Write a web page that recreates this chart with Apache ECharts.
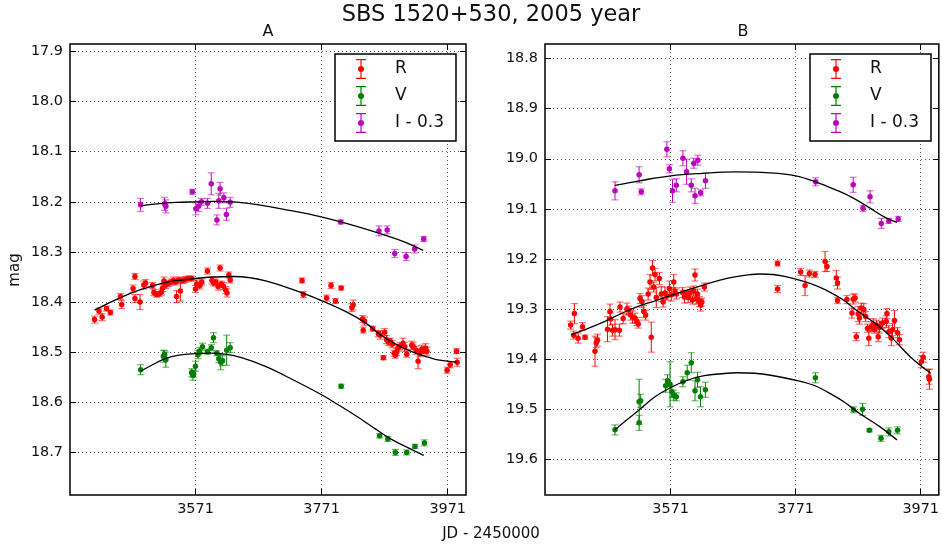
<!DOCTYPE html>
<html><head><meta charset="utf-8">
<script src="https://cdn.jsdelivr.net/npm/echarts@6/dist/echarts.min.js"></script>
<style>html,body{margin:0;padding:0;background:#fff}#c{width:942px;height:547px}</style>
</head><body><div id="c"></div>
<script>
// ---------- tick labels ----------
const xTicks = [3571, 3771, 3971];
const yTicksA = [17.9, 18.0, 18.1, 18.2, 18.3, 18.4, 18.5, 18.6, 18.7];
const yTicksB = [18.8, 18.9, 19.0, 19.1, 19.2, 19.3, 19.4, 19.5, 19.6];
const legendNames = ['R', 'V', 'I - 0.3'];

// ---------- Panel A data: [JD-2450000, mag, err] ----------
const A_R = [
[3411,18.435,0.007],[3418,18.418,0.006],[3423,18.430,0.007],[3430,18.413,0.005],[3436,18.421,0.005],
[3452,18.389,0.006],[3454,18.405,0.008],[3472,18.373,0.007],[3475,18.349,0.006],[3475,18.393,0.008],
[3483,18.400,0.015],[3489,18.366,0.008],[3492,18.362,0.007],[3503,18.367,0.006],[3505,18.381,0.006],
[3509,18.385,0.005],[3513,18.384,0.005],[3517,18.380,0.006],[3519,18.372,0.007],[3521,18.358,0.008],
[3524,18.366,0.007],[3528,18.363,0.006],[3532,18.360,0.006],[3536,18.357,0.007],[3540,18.360,0.006],
[3541,18.389,0.012],[3544,18.356,0.006],[3547,18.378,0.020],[3551,18.357,0.006],[3555,18.355,0.006],
[3560,18.353,0.005],[3565,18.353,0.005],[3571,18.374,0.007],[3573,18.364,0.008],[3578,18.367,0.007],
[3581,18.360,0.006],[3590,18.338,0.006],[3597,18.357,0.007],[3600,18.362,0.006],[3603,18.360,0.006],
[3607,18.369,0.007],[3610,18.332,0.006],[3612,18.364,0.006],[3615,18.368,0.007],[3619,18.376,0.007],
[3621,18.382,0.008],[3624,18.346,0.006],[3626,18.356,0.006],
[3740,18.357,0.005],[3742,18.385,0.006],[3779,18.392,0.006],[3786,18.367,0.006],[3793,18.398,0.005],
[3802,18.372,0.004],[3819,18.411,0.008],[3821,18.406,0.010],[3836,18.434,0.007],[3839,18.438,0.008],
[3837,18.456,0.006],[3852,18.453,0.005],[3861,18.463,0.006],[3864,18.466,0.008],[3869,18.511,0.004],
[3871,18.460,0.007],[3874,18.475,0.008],[3877,18.480,0.007],[3880,18.478,0.006],[3883,18.484,0.007],
[3886,18.502,0.006],[3888,18.506,0.006],[3890,18.500,0.007],[3892,18.492,0.006],[3895,18.488,0.007],
[3900,18.482,0.010],[3903,18.489,0.009],[3906,18.504,0.006],[3914,18.486,0.008],[3916,18.488,0.007],
[3921,18.496,0.008],[3924,18.518,0.015],[3927,18.502,0.007],[3930,18.494,0.008],[3933,18.496,0.007],
[3936,18.492,0.009],[3938,18.498,0.008],[3970,18.536,0.006],[3975,18.525,0.006],[3985,18.498,0.005],
[3986,18.520,0.008]
];
const A_V = [
[3484,18.535,0.010],[3520,18.508,0.012],[3522,18.505,0.008],[3524,18.515,0.015],[3565,18.541,0.008],
[3567,18.546,0.010],[3568,18.543,0.007],[3571,18.528,0.010],[3575,18.505,0.008],[3577,18.498,0.007],
[3582,18.489,0.007],[3590,18.499,0.005],[3596,18.491,0.006],[3599.5,18.471,0.010],[3605,18.502,0.005],
[3608,18.513,0.008],[3611,18.520,0.015],[3614,18.517,0.010],[3620.5,18.496,0.030],[3626,18.491,0.010],
[3802,18.568,0.004],[3863,18.667,0.004],[3876,18.673,0.005],[3888,18.700,0.006],[3906,18.700,0.005],
[3919,18.688,0.004],[3934,18.681,0.006]
];
const A_I = [
[3484,18.206,0.013],[3522,18.204,0.013],[3524,18.209,0.013],[3566,18.180,0.005],[3571.5,18.214,0.012],
[3576,18.209,0.010],[3580.5,18.200,0.007],[3590,18.203,0.010],[3596,18.164,0.022],[3605,18.236,0.010],
[3608,18.198,0.015],[3610,18.174,0.013],[3616,18.192,0.010],[3620,18.225,0.012],[3626,18.201,0.010],
[3801.5,18.240,0.004],[3862,18.258,0.010],[3875,18.256,0.008],[3887,18.303,0.008],[3905,18.309,0.008],
[3918.5,18.294,0.008],[3933,18.274,0.005]
];
// fitted curves
const A_R_fit = [[3411,18.416],[3440,18.398],[3473,18.380],[3500,18.369],[3526,18.360],[3571,18.353],[3600,18.350],
[3631,18.349],[3660,18.352],[3684,18.358],[3705,18.366],[3737,18.380],[3771,18.397],[3811,18.420],[3840,18.441],
[3863,18.464],[3890,18.485],[3916,18.500],[3940,18.510],[3958,18.516],[3985,18.520]];
const A_V_fit = [[3484,18.538],[3500,18.527],[3523,18.513],[3545,18.506],[3571,18.503],[3595,18.502],[3618,18.504],
[3644,18.511],[3681,18.528],[3724,18.554],[3771,18.585],[3800,18.607],[3829,18.630],[3855,18.652],[3882,18.674],
[3910,18.692],[3933,18.706]];
const A_I_fit = [[3484,18.208],[3510,18.204],[3540,18.201],[3571,18.200],[3600,18.199],[3630,18.200],[3660,18.204],
[3690,18.210],[3720,18.217],[3750,18.224],[3780,18.233],[3810,18.243],[3840,18.254],[3870,18.266],[3900,18.279],[3932,18.297]];

// ---------- Panel B data ----------
const B_R = [
[3411,19.332,0.008],[3417,19.309,0.020],[3416,19.352,0.008],[3423,19.358,0.010],[3430,19.335,0.008],
[3434,19.356,0.004],[3450,19.384,0.030],[3452,19.367,0.010],[3454,19.362,0.012],[3470,19.340,0.025],
[3474,19.305,0.015],[3475,19.320,0.012],[3478,19.342,0.012],[3482,19.341,0.020],[3489,19.342,0.012],
[3490,19.296,0.010],[3495,19.319,0.010],[3501,19.300,0.012],[3504,19.302,0.008],[3507,19.312,0.010],
[3510,19.316,0.012],[3514,19.318,0.010],[3517,19.325,0.008],[3519,19.330,0.008],[3522,19.279,0.010],
[3525,19.285,0.012],[3528,19.305,0.012],[3531,19.312,0.010],[3535,19.270,0.012],[3538,19.246,0.015],
[3540,19.356,0.030],[3542,19.218,0.015],[3544,19.256,0.010],[3546,19.231,0.012],[3548,19.277,0.020],
[3553,19.239,0.012],[3556,19.270,0.015],[3559,19.286,0.010],[3562,19.268,0.012],[3565,19.274,0.008],
[3569,19.259,0.015],[3572,19.272,0.012],[3576,19.246,0.015],[3578,19.265,0.008],[3580,19.270,0.010],
[3590,19.267,0.010],[3593,19.276,0.012],[3596,19.270,0.008],[3599,19.277,0.010],[3602,19.268,0.012],
[3606,19.282,0.008],[3608,19.264,0.010],[3610,19.232,0.012],[3612,19.280,0.010],[3614,19.270,0.010],
[3617,19.285,0.010],[3619,19.292,0.012],[3621,19.286,0.008],[3625,19.256,0.008],
[3742,19.209,0.005],[3742,19.260,0.007],[3779,19.226,0.007],[3786,19.253,0.020],[3793,19.229,0.007],
[3802,19.231,0.006],[3818,19.205,0.020],[3821,19.215,0.010],[3836,19.238,0.015],[3838,19.248,0.012],
[3838,19.283,0.006],[3853,19.281,0.008],[3861,19.308,0.010],[3863,19.280,0.010],[3866,19.278,0.008],
[3868,19.355,0.008],[3871,19.310,0.015],[3873,19.318,0.012],[3876,19.298,0.010],[3880,19.301,0.012],
[3883,19.315,0.010],[3886,19.338,0.008],[3888,19.358,0.015],[3892,19.335,0.010],[3895,19.331,0.012],
[3897,19.340,0.008],[3900,19.332,0.010],[3903,19.355,0.010],[3905,19.336,0.012],[3910,19.328,0.010],
[3916,19.325,0.012],[3917,19.309,0.010],[3920,19.345,0.012],[3924,19.358,0.015],[3926,19.341,0.012],
[3929,19.323,0.020],[3934,19.347,0.010],[3937,19.361,0.010],[3972,19.405,0.012],[3975,19.396,0.010],
[3984,19.435,0.015],[3985,19.440,0.020]
];
const B_V = [
[3482,19.541,0.010],[3520.6,19.485,0.045],[3523,19.483,0.013],[3520.6,19.527,0.015],[3563,19.453,0.013],
[3566,19.443,0.012],[3570,19.450,0.045],[3573,19.465,0.012],[3576,19.472,0.010],[3580,19.475,0.008],
[3590.6,19.445,0.010],[3597.5,19.427,0.015],[3604,19.407,0.020],[3610,19.463,0.020],[3614,19.441,0.015],
[3618.7,19.475,0.020],[3626.6,19.461,0.015],[3802.6,19.437,0.010],[3863.5,19.501,0.006],[3878,19.500,0.012],
[3889,19.542,0.003],[3907.5,19.558,0.006],[3920,19.545,0.008],[3934,19.542,0.007]
];
const B_I = [
[3482,19.064,0.018],[3520.6,19.032,0.016],[3524,19.066,0.006],[3565,18.981,0.015],[3569,19.020,0.008],
[3574,19.064,0.023],[3580,19.053,0.013],[3590.6,18.999,0.015],[3596.5,19.026,0.025],[3604,19.053,0.013],
[3608,19.009,0.010],[3610,19.074,0.015],[3614.5,19.003,0.010],[3619,19.068,0.006],[3626.7,19.044,0.015],
[3803,19.046,0.008],[3863,19.052,0.015],[3878.7,19.099,0.006],[3890,19.076,0.012],[3908,19.129,0.010],
[3920,19.124,0.005],[3935,19.120,0.005]
];
const B_R_fit = [[3412,19.351],[3440,19.338],[3465,19.325],[3490,19.310],[3518,19.295],[3545,19.284],[3571,19.273],
[3600,19.261],[3623,19.252],[3650,19.242],[3676,19.235],[3700,19.231],[3713,19.230],[3735,19.231],[3755,19.235],
[3771,19.240],[3795,19.249],[3818,19.261],[3845,19.280],[3871,19.305],[3900,19.330],[3924,19.356],[3955,19.396],[3987,19.428]];
const B_V_fit = [[3482,19.541],[3500,19.522],[3521,19.501],[3546,19.475],[3572,19.456],[3600,19.441],[3625,19.433],
[3652,19.429],[3678,19.427],[3705,19.428],[3731,19.432],[3771,19.442],[3800,19.452],[3821,19.465],[3848,19.485],
[3874,19.509],[3906,19.535],[3933,19.561]];
const B_I_fit = [[3482,19.053],[3521,19.044],[3571,19.034],[3622,19.029],[3675,19.026],[3729,19.028],[3771,19.034],
[3803,19.046],[3835,19.062],[3861,19.077],[3888,19.097],[3914,19.117],[3933,19.127]];

// ---------- styling ----------
const FONT = 'DejaVu Sans';
const COL = { R: '#ff0000', V: '#008000', I: '#bf00bf' };
const GRID_TOP = 44, GRID_H = 451, GRID_W = 396;

function xAx(gi, min, max, pos) {
  const main = pos === 'bottom';
  return {
    type: 'value', gridIndex: gi, min: min, max: max, position: pos,
    axisLine: { show: false },
    axisTick: { show: true, inside: true, length: 6, customValues: xTicks, lineStyle: { color: '#000', width: 1 } },
    axisLabel: { show: main, customValues: xTicks, formatter: v => String(Math.round(v)), margin: 7, fontSize: 14.4, color: '#111', fontFamily: FONT },
    splitLine: { show: main, lineStyle: { color: '#555', width: 1, type: [1, 3] } }
  };
}
function yAx(gi, min, max, ticks, pos) {
  const main = pos === 'left';
  return {
    type: 'value', gridIndex: gi, min: min, max: max, inverse: true, position: pos,
    axisLine: { show: false },
    axisTick: { show: true, inside: true, length: 6, customValues: ticks, lineStyle: { color: '#000', width: 1 } },
    axisLabel: { show: main, customValues: ticks, formatter: v => v.toFixed(1), margin: 7, fontSize: 14.4, color: '#111', fontFamily: FONT },
    splitLine: { show: main, lineStyle: { color: '#555', width: 1, type: [1, 3] } }
  };
}

function errRender(color) {
  return function (params, api) {
    const x = api.value(0), y = api.value(1), e = api.value(2);
    const a = api.coord([x, y - e]);
    const b = api.coord([x, y + e]);
    const hw = 3.5;
    return {
      type: 'group',
      children: [
        { type: 'line', shape: { x1: a[0], y1: a[1], x2: b[0], y2: b[1] }, style: { stroke: color, lineWidth: 1 } },
        { type: 'line', shape: { x1: a[0] - hw, y1: a[1], x2: a[0] + hw, y2: a[1] }, style: { stroke: color, lineWidth: 1.2, opacity: 0.55 } },
        { type: 'line', shape: { x1: b[0] - hw, y1: b[1], x2: b[0] + hw, y2: b[1] }, style: { stroke: color, lineWidth: 1.2, opacity: 0.55 } }
      ]
    };
  };
}

const series = [];
function addPanel(gi, sets) {
  sets.forEach(s => {
    series.push({
      type: 'custom', name: s.name + ' err ' + gi, xAxisIndex: gi * 2, yAxisIndex: gi * 2,
      renderItem: errRender(s.color), data: s.data, encode: { x: 0, y: 1 }, clip: true, z: 2, silent: true
    });
    series.push({
      type: 'scatter', name: s.name, xAxisIndex: gi * 2, yAxisIndex: gi * 2,
      data: s.data.map(d => [d[0], d[1]]), symbol: 'circle', symbolSize: 5.5,
      itemStyle: { color: s.color, opacity: 1 }, z: 3, silent: true
    });
    series.push({
      type: 'line', name: s.name + ' fit ' + gi, xAxisIndex: gi * 2, yAxisIndex: gi * 2,
      data: s.fit, showSymbol: false, smooth: 0.4, lineStyle: { color: '#000', width: 1.3 }, z: 4, silent: true
    });
  });
}
addPanel(0, [
  { name: 'R', color: COL.R, data: A_R, fit: A_R_fit },
  { name: 'V', color: COL.V, data: A_V, fit: A_V_fit },
  { name: 'I - 0.3', color: COL.I, data: A_I, fit: A_I_fit }
]);
addPanel(1, [
  { name: 'R', color: COL.R, data: B_R, fit: B_R_fit },
  { name: 'V', color: COL.V, data: B_V, fit: B_V_fit },
  { name: 'I - 0.3', color: COL.I, data: B_I, fit: B_I_fit }
]);

// error-bar legend glyph: caps, vertical bar and a filled dot (all clockwise so the fill is solid)
const ICON = 'path://M0,0H10V1.2H0Z M4.4,1.2H5.6V18.8H4.4Z M0,18.8H10V20H0Z M2,10A3,3 0 1 1 8,10A3,3 0 1 1 2,10Z';
function mkLegend(left) {
  return {
    left: left, top: 54, orient: 'vertical', icon: ICON, itemWidth: 10, itemHeight: 20, itemGap: 7,
    padding: [5, 12, 8, 21], borderColor: '#000', borderWidth: 1.5, backgroundColor: '#fff',
    data: legendNames, selectedMode: false,
    itemStyle: { borderWidth: 0 },
    textStyle: { fontSize: 17, fontFamily: FONT, color: '#111', padding: [0, 0, 0, 24], lineHeight: 20 }
  };
}

const option = {
  animation: false,
  backgroundColor: '#fff',
  textStyle: { fontFamily: FONT },
  grid: [
    { left: 70, top: GRID_TOP, width: GRID_W, height: GRID_H, show: true, borderColor: '#000', borderWidth: 1.5, backgroundColor: 'transparent' },
    { left: 545, top: GRID_TOP, width: GRID_W, height: GRID_H, show: true, borderColor: '#000', borderWidth: 1.5, backgroundColor: 'transparent' }
  ],
  xAxis: [xAx(0, 3372, 4000, 'bottom'), xAx(0, 3372, 4000, 'top'), xAx(1, 3370, 4000, 'bottom'), xAx(1, 3370, 4000, 'top')],
  yAxis: [yAx(0, 17.885, 18.785, yTicksA, 'left'), yAx(0, 17.885, 18.785, yTicksA, 'right'),
          yAx(1, 18.771, 19.671, yTicksB, 'left'), yAx(1, 18.771, 19.671, yTicksB, 'right')],
  legend: [mkLegend(335), mkLegend(810)],
  series: series,
  graphic: [
    { type: 'text', x: 491, y: 15, style: { text: 'SBS 1520+530, 2005 year', font: '22.5px "DejaVu Sans"', fill: '#111', textAlign: 'center', textVerticalAlign: 'middle' } },
    { type: 'text', x: 268, y: 32, style: { text: 'A', font: '16px "DejaVu Sans"', fill: '#111', textAlign: 'center', textVerticalAlign: 'middle' } },
    { type: 'text', x: 743, y: 32, style: { text: 'B', font: '16px "DejaVu Sans"', fill: '#111', textAlign: 'center', textVerticalAlign: 'middle' } },
    { type: 'text', x: 15, y: 270, rotation: Math.PI / 2, style: { text: 'mag', font: '15px "DejaVu Sans"', fill: '#111', textAlign: 'center', textVerticalAlign: 'middle' } },
    { type: 'text', x: 491, y: 534, style: { text: 'JD - 2450000', font: '15px "DejaVu Sans"', fill: '#111', textAlign: 'center', textVerticalAlign: 'middle' } }
  ]
};
const chart = echarts.init(document.getElementById('c'), null, { renderer: 'canvas' });
chart.setOption(option);
</script>
</body></html>
